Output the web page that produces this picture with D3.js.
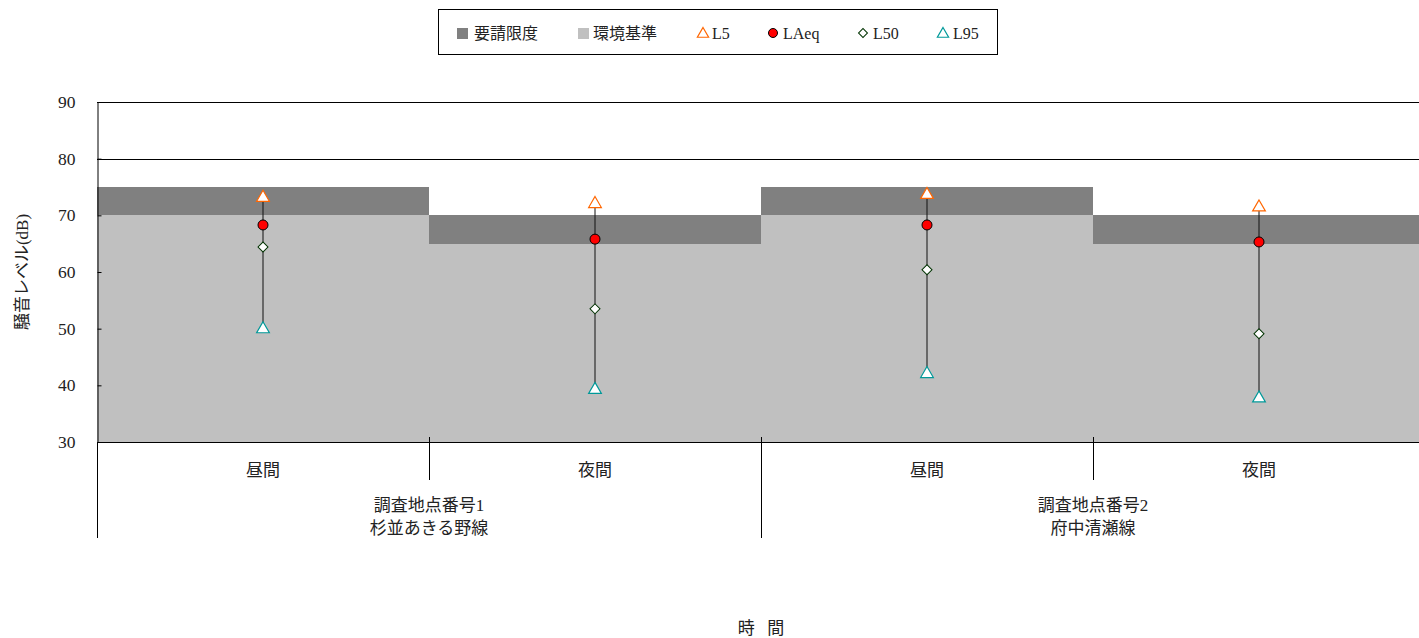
<!DOCTYPE html>
<html><head><meta charset="utf-8">
<script src="https://cdn.jsdelivr.net/npm/d3@7"></script>
<style>
body{margin:0;background:#fff;}
svg{display:block;font-family:"Liberation Serif","Noto Sans CJK JP",serif;}
</style></head>
<body><svg id="c" width="1419" height="638"></svg>
<script>
const categories = ["昼間","夜間","昼間","夜間"];
const groups = [["調査地点番号1","杉並あきる野線"],["調査地点番号2","府中清瀬線"]];
const limitReq = [75,70,75,70];   // 要請限度
const envStd  = [70,65,70,65];    // 環境基準
const L5   = [73.3,72.2,73.8,71.6];
const LAeq = [68.3,65.8,68.3,65.3];
const L50  = [64.4,53.5,60.4,49.1];
const L95  = [50.1,39.4,42.2,37.9];
const yTicks = [30,40,50,60,70,80,90];

const svg = d3.select("#c");
const pLeft=97, pTop=102, pBottom=442, bandW=332;
const x = d3.scaleBand().domain(d3.range(categories.length)).range([pLeft,pLeft+bandW*categories.length]).padding(0);
const y = d3.scaleLinear().domain([30,90]).range([pBottom,pTop]);

// gridlines
svg.append("g").selectAll("line").data(yTicks.filter(d=>d>30)).join("line")
  .attr("x1",pLeft).attr("x2",pLeft+bandW*4).attr("y1",d=>Math.round(y(d))+0.5).attr("y2",d=>Math.round(y(d))+0.5)
  .attr("stroke","#000").attr("stroke-width",1);

// stacked bands
const idx = d3.range(categories.length);
svg.append("g").selectAll("rect").data(idx).join("rect")
  .attr("x",i=>x(i)).attr("width",x.bandwidth())
  .attr("y",i=>y(envStd[i])).attr("height",i=>y(30)-y(envStd[i]))
  .attr("fill","#c0c0c0").attr("shape-rendering","crispEdges");
svg.append("g").selectAll("rect").data(idx).join("rect")
  .attr("x",i=>x(i)).attr("width",x.bandwidth())
  .attr("y",i=>y(limitReq[i])).attr("height",i=>y(envStd[i])-y(limitReq[i]))
  .attr("fill","#808080").attr("shape-rendering","crispEdges");

// y axis
const yAxis = d3.axisLeft(y).tickValues(yTicks).tickSize(-4).tickPadding(22).tickSizeOuter(0);
const ya = svg.append("g").attr("transform",`translate(${pLeft+0.5},0)`).call(yAxis);
ya.select(".domain").attr("stroke","#000");
ya.selectAll("line").attr("stroke","#000");
ya.selectAll("text").attr("font-size",17.5).attr("fill","#222").attr("font-family","Liberation Serif");

// x axis line
svg.append("line").attr("x1",pLeft).attr("x2",pLeft+bandW*4).attr("y1",pBottom+0.5).attr("y2",pBottom+0.5).attr("stroke","#000");
// category dividers
idx.slice(1).forEach(i=>{
  const xx = Math.round(x(i))+0.5;
  const isGroup = i%2===0;
  svg.append("line").attr("x1",xx).attr("x2",xx).attr("y1",437).attr("y2",isGroup?538:480).attr("stroke","#000");
});
svg.append("line").attr("x1",pLeft+0.5).attr("x2",pLeft+0.5).attr("y1",pBottom).attr("y2",538).attr("stroke","#000");

// category labels
svg.append("g").selectAll("text").data(idx).join("text")
  .attr("x",i=>x(i)+x.bandwidth()/2).attr("y",476).attr("text-anchor","middle")
  .attr("font-size",17).attr("fill","#222").text(i=>categories[i]);
groups.forEach((g,gi)=>{
  const gx = x(gi*2)+x.bandwidth();
  g.forEach((t,li)=>{
    svg.append("text").attr("x",gx).attr("y",511+li*23).attr("text-anchor","middle")
      .attr("font-size",17).attr("fill","#222").text(t);
  });
});

// axis titles
svg.append("text").attr("x",761).attr("y",634).attr("text-anchor","middle").attr("font-size",17).attr("fill","#222").attr("xml:space","preserve").text("時   間");
svg.append("text").attr("transform","translate(28,272) rotate(-90)").attr("text-anchor","middle").attr("font-size",17).attr("fill","#222").text("騒音レベル(dB)");

// high-low lines
const cx = i=>x(i)+x.bandwidth()/2;
svg.append("g").selectAll("line").data(idx).join("line")
  .attr("x1",cx).attr("x2",cx).attr("y1",i=>y(L5[i])).attr("y2",i=>y(L95[i]))
  .attr("stroke","#111").attr("stroke-width",1);

const tri = d3.symbol().type(d3.symbolTriangle).size(70);
const dia = d3.symbol().type(d3.symbolSquare).size(50);
function drawMarkers(vals, kind){
  const g = svg.append("g");
  idx.forEach(i=>{
    const px=cx(i), py=y(vals[i]);
    if(kind==="L5"||kind==="L95"){
      g.append("path").attr("d",tri()).attr("transform",`translate(${px},${py+1})`)
        .attr("fill","#fff").attr("stroke",kind==="L5"?"#ff6600":"#009999").attr("stroke-width",1.2);
    } else if(kind==="LAeq"){
      g.append("circle").attr("cx",px).attr("cy",py).attr("r",5).attr("fill","#ff0000").attr("stroke","#000").attr("stroke-width",1);
    } else {
      g.append("path").attr("d",dia()).attr("transform",`translate(${px},${py}) rotate(45)`)
        .attr("fill","#fff").attr("stroke","#003300").attr("stroke-width",1);
    }
  });
}
drawMarkers(L95,"L95"); drawMarkers(L50,"L50"); drawMarkers(LAeq,"LAeq"); drawMarkers(L5,"L5");

// legend
const lg = svg.append("g");
lg.append("rect").attr("x",438.5).attr("y",9.5).attr("width",559).attr("height",45).attr("fill","#fff").attr("stroke","#000");
const legendItems = [
  {label:"要請限度",type:"sq",color:"#808080",sx:457,tx:474},
  {label:"環境基準",type:"sq",color:"#c0c0c0",sx:578,tx:593},
  {label:"L5",type:"tri",color:"#ff6600",sx:703,tx:712},
  {label:"LAeq",type:"circ",color:"#ff0000",sx:773,tx:783},
  {label:"L50",type:"dia",color:"#003300",sx:863,tx:873},
  {label:"L95",type:"tri",color:"#009999",sx:943,tx:953}
];
const ly = 33;
legendItems.forEach(it=>{
  if(it.type==="sq") lg.append("rect").attr("x",it.sx).attr("y",ly-5).attr("width",11).attr("height",11).attr("fill",it.color);
  else if(it.type==="tri") lg.append("path").attr("d",d3.symbol().type(d3.symbolTriangle).size(55)()).attr("transform",`translate(${it.sx},${ly+1})`).attr("fill","#fff").attr("stroke",it.color).attr("stroke-width",1.2);
  else if(it.type==="circ") lg.append("circle").attr("cx",it.sx).attr("cy",ly).attr("r",4.5).attr("fill",it.color).attr("stroke","#000");
  else lg.append("path").attr("d",d3.symbol().type(d3.symbolSquare).size(40)()).attr("transform",`translate(${it.sx},${ly}) rotate(45)`).attr("fill","#fff").attr("stroke",it.color);
  lg.append("text").attr("x",it.tx).attr("y",ly+6).attr("font-size",16).attr("fill","#222").text(it.label);
});
</script></body></html>
